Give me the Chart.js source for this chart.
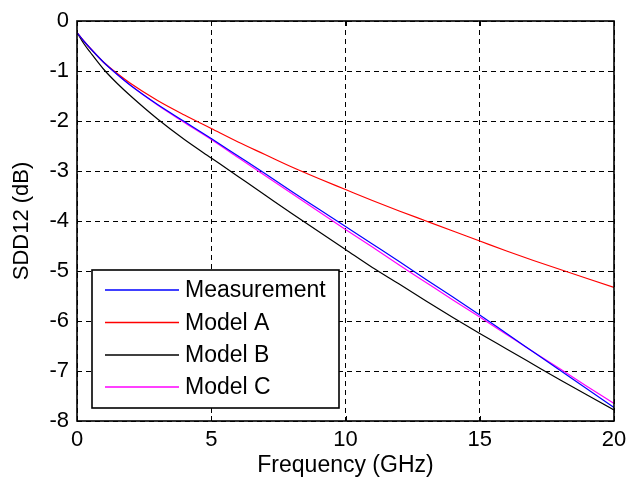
<!DOCTYPE html>
<html>
<head>
<meta charset="utf-8">
<script src="https://cdn.jsdelivr.net/npm/chart.js@4/dist/chart.umd.min.js"></script>
<style>
  html, body { margin: 0; padding: 0; background: #ffffff; }
  #wrap { width: 627px; height: 482px; }
</style>
</head>
<body>
<div id="wrap"><canvas id="c" width="627" height="482"></canvas></div>
<script>
// Frequency points (GHz)
const freq = [0, 0.25, 0.5, 1, 1.5, 2, 3, 4, 5, 6, 7, 8, 9, 10, 11, 12, 13, 14, 15, 16, 17, 18, 19, 20];
// SDD12 (dB) per series
const measurement = [-0.23, -0.4, -0.55, -0.83, -1.07, -1.29, -1.67, -2.01, -2.35, -2.7, -3.05, -3.41, -3.76, -4.11, -4.46, -4.81, -5.17, -5.52, -5.88, -6.25, -6.62, -6.99, -7.36, -7.73];
const modelA = [-0.23, -0.4, -0.55, -0.83, -1.05, -1.25, -1.59, -1.88, -2.15, -2.42, -2.67, -2.92, -3.15, -3.37, -3.59, -3.8, -4.0, -4.2, -4.4, -4.6, -4.79, -4.97, -5.15, -5.33];
const modelB = [-0.23, -0.45, -0.63, -0.97, -1.25, -1.5, -1.96, -2.37, -2.74, -3.11, -3.48, -3.85, -4.21, -4.57, -4.93, -5.26, -5.6, -5.93, -6.25, -6.56, -6.87, -7.18, -7.48, -7.78];
const modelC = [-0.23, -0.4, -0.55, -0.83, -1.07, -1.29, -1.68, -2.03, -2.37, -2.73, -3.09, -3.45, -3.81, -4.17, -4.52, -4.88, -5.23, -5.58, -5.92, -6.27, -6.62, -6.96, -7.31, -7.65];
const seriesNames = ['Measurement', 'Model A', 'Model B', 'Model C'];
const xTicks = [0, 5, 10, 15, 20];
const yTicks = [-8, -7, -6, -5, -4, -3, -2, -1, 0];

const colors = ['#0000ff', '#ff0000', '#000000', '#ff00ff'];
const allSeries = [measurement, modelA, modelB, modelC];

const datasets = allSeries.map((s, i) => ({
  label: seriesNames[i],
  data: freq.map((f, j) => ({ x: f, y: s[j] })),
  borderColor: colors[i],
  backgroundColor: colors[i],
  borderWidth: 1.2,
  pointRadius: 0,
  cubicInterpolationMode: 'monotone',
  fill: false
}));
datasets[0].order = -1;

const FONT = 'Liberation Sans, Arial, sans-serif';

const framePlugin = {
  id: 'frame',
  afterDatasetsDraw(chart) {
    const { ctx, chartArea: a, scales } = chart;
    ctx.save();
    ctx.strokeStyle = '#000';
    ctx.lineWidth = 1;
    ctx.setLineDash([]);
    const tl = 5;
    xTicks.forEach(v => {
      const px = Math.round(scales.x.getPixelForValue(v)) + 0.5;
      ctx.beginPath();
      ctx.moveTo(px, a.bottom); ctx.lineTo(px, a.bottom - tl);
      ctx.moveTo(px, a.top); ctx.lineTo(px, a.top + tl);
      ctx.stroke();
    });
    yTicks.forEach(v => {
      const py = Math.round(scales.y.getPixelForValue(v)) + 0.5;
      ctx.beginPath();
      ctx.moveTo(a.left, py); ctx.lineTo(a.left + tl, py);
      ctx.moveTo(a.right, py); ctx.lineTo(a.right - tl, py);
      ctx.stroke();
    });
    ctx.lineWidth = 1.6;
    ctx.strokeRect(a.left, a.top, a.right - a.left, a.bottom - a.top);

    // legend box
    const lx = 92, ly = 270, lw = 247, lh = 138;
    ctx.fillStyle = '#fff';
    ctx.fillRect(lx, ly, lw, lh);
    ctx.lineWidth = 1.6;
    ctx.strokeStyle = '#000';
    ctx.strokeRect(lx, ly, lw, lh);
    const rows = [290, 322.5, 355, 387];
    chart.data.datasets.forEach((ds, i) => {
      const y = rows[i];
      ctx.strokeStyle = ds.borderColor;
      ctx.lineWidth = 1.4;
      ctx.beginPath();
      ctx.moveTo(105, y); ctx.lineTo(179, y);
      ctx.stroke();
      ctx.fillStyle = '#000';
      ctx.font = '23px ' + FONT;
      ctx.textAlign = 'left';
      ctx.textBaseline = 'middle';
      ctx.fillText(ds.label, 185, y + 1);
    });
    ctx.restore();
  }
};

const bgPlugin = {
  id: 'bg',
  beforeDraw(chart) {
    const { ctx } = chart;
    ctx.save();
    ctx.fillStyle = '#fff';
    ctx.fillRect(0, 0, chart.width, chart.height);
    ctx.restore();
  }
};

new Chart(document.getElementById('c'), {
  type: 'line',
  data: { datasets },
  plugins: [bgPlugin, framePlugin],
  options: {
    responsive: false,
    animation: false,
    devicePixelRatio: 1,
    layout: { padding: { top: 21, right: 13, left: 0, bottom: 0 } },
    plugins: { legend: { display: false }, tooltip: { enabled: false } },
    scales: {
      x: {
        type: 'linear',
        min: 0, max: 20,
        afterFit: s => { s.height = 61; s.paddingLeft = 0; s.paddingRight = 0; },
        afterBuildTicks: s => { s.ticks = xTicks.map(v => ({ value: v })); },
        border: { display: false, dash: [5, 4] },
        grid: { color: '#000', lineWidth: 1, drawTicks: false },
        ticks: { color: '#000', padding: 6, font: { family: FONT, size: 22, lineHeight: 1.2 }, maxRotation: 0 },
        title: { display: true, text: 'Frequency (GHz)', color: '#000', font: { family: FONT, size: 23, lineHeight: 1.2 }, padding: { top: 0, bottom: 3 } }
      },
      y: {
        type: 'linear',
        min: -8, max: 0,
        afterFit: s => { s.width = 77; s.paddingTop = 0; s.paddingBottom = 0; },
        afterBuildTicks: s => { s.ticks = yTicks.map(v => ({ value: v })); },
        border: { display: false, dash: [5, 4] },
        grid: { color: '#000', lineWidth: 1, drawTicks: false },
        ticks: { color: '#000', padding: 8, font: { family: FONT, size: 22, lineHeight: 1.2 } },
        title: { display: true, text: 'SDD12 (dB)', color: '#000', font: { family: FONT, size: 22, lineHeight: 1.2 }, padding: { top: 9, bottom: 0 } }
      }
    }
  }
});
</script>
</body>
</html>
